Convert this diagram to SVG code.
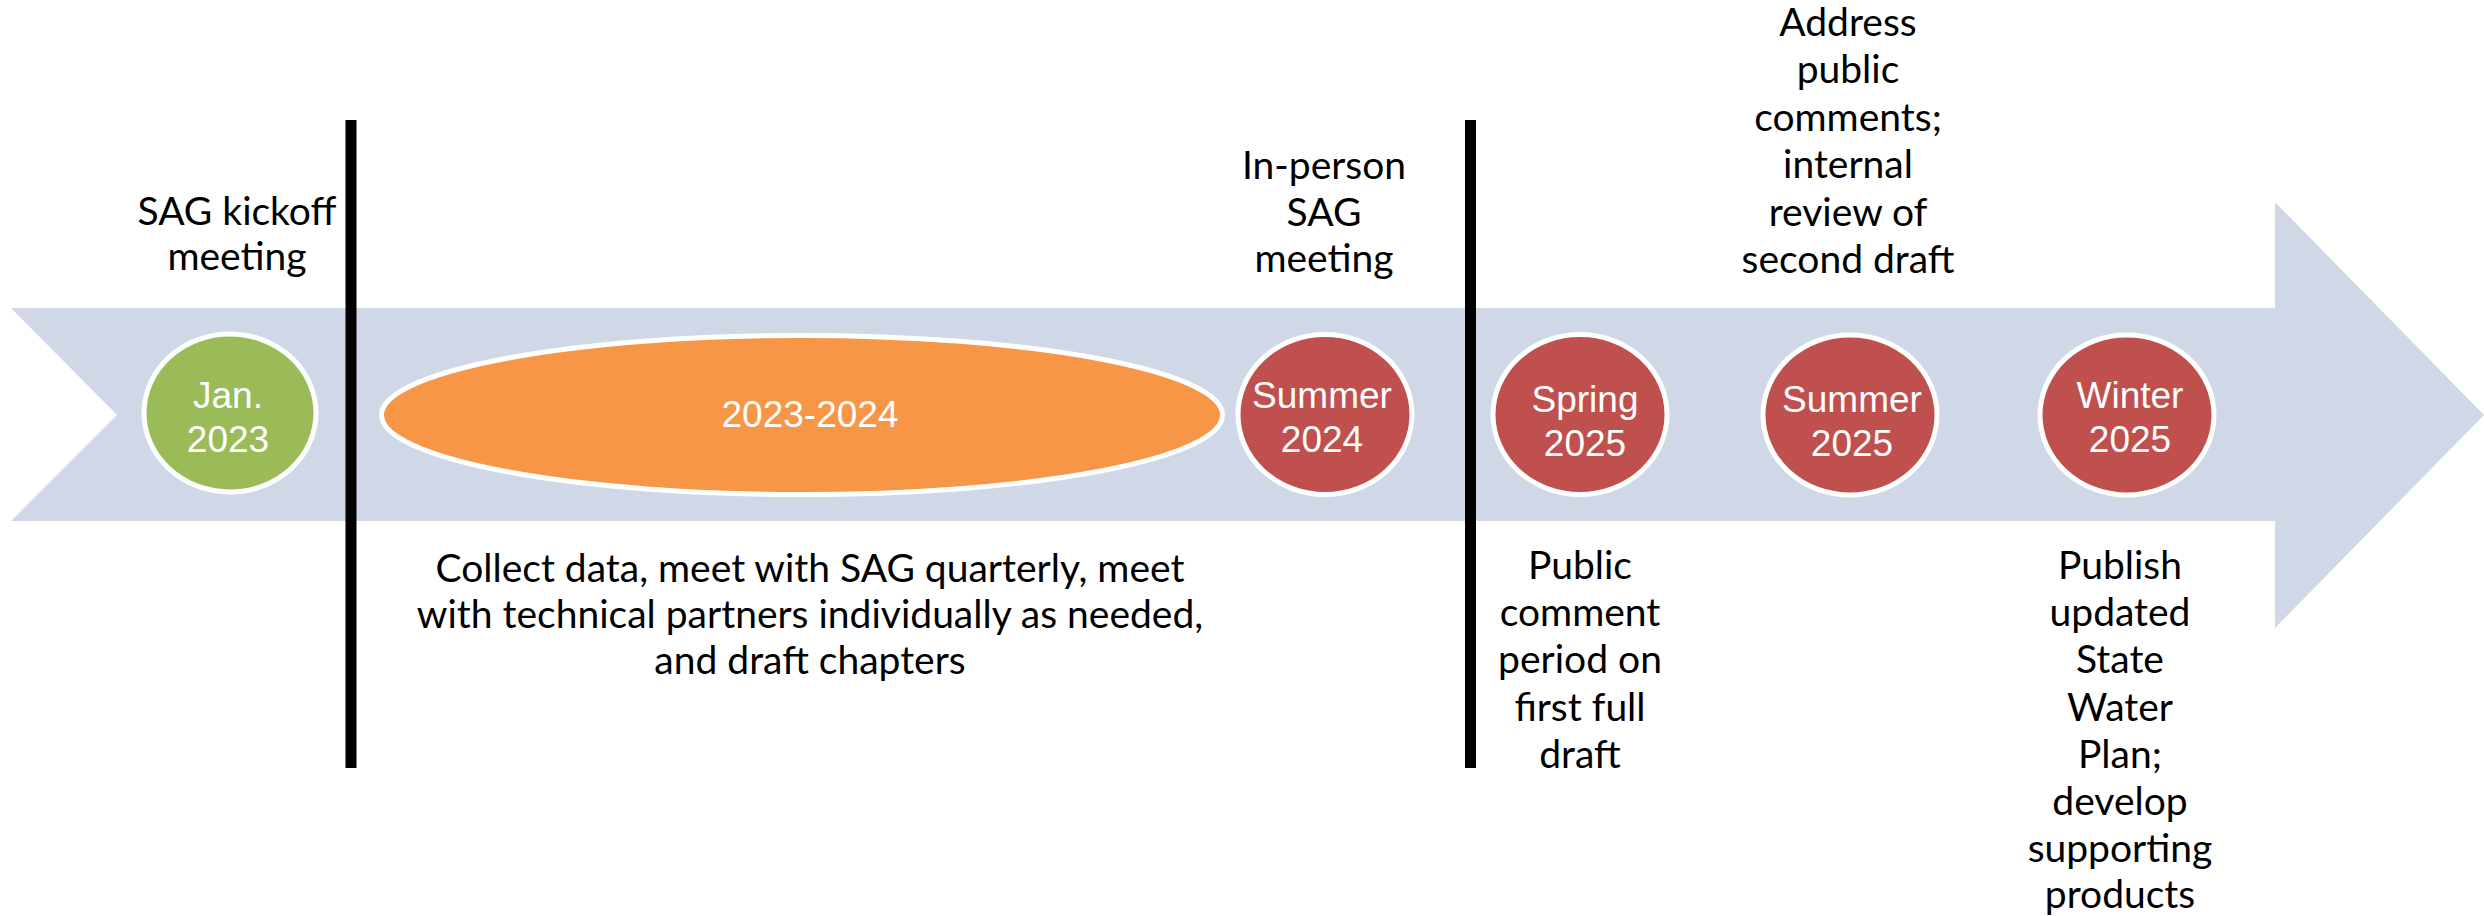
<svg xmlns="http://www.w3.org/2000/svg" width="2484" height="916" viewBox="0 0 2484 916">
<style>
.bg{fill:#ffffff}
.band{fill:#D0D8E8}
.node{stroke:#ffffff;stroke-width:5}
.g{fill:#9BBB59}.o{fill:#F79646}.r{fill:#C0504D}
.wt{font-family:"Liberation Sans",Arial,sans-serif;font-size:37px;fill:#ffffff;text-anchor:middle}
.bt{font-family:Lato,"Noto Sans",sans-serif;font-size:39px;fill:#000000;text-anchor:middle}
.sep{stroke:#000000;stroke-width:11}
</style>
<rect class="bg" x="0" y="0" width="2484" height="916"/>
<path id="timeline-arrow" class="band" d="M11,308 L2275,308 L2275,202 L2484,415 L2275,628 L2275,521 L11,521 L117,415 Z"/>
<g id="connectors">
<line class="sep" x1="351" y1="120" x2="351" y2="768"/>
<line class="sep" x1="1470.5" y1="120" x2="1470.5" y2="768"/>
</g>
<g id="n-jan2023">
<ellipse class="node g" cx="230" cy="413" rx="86" ry="79"/>
<text class="wt" x="228" y="408">Jan.</text>
<text class="wt" x="228" y="452">2023</text>
</g>
<g id="n-2023-2024">
<ellipse class="node o" cx="802" cy="415" rx="420.5" ry="79.5"/>
<text class="wt" x="810" y="427">2023-2024</text>
</g>
<g id="n-summer2024">
<ellipse class="node r" cx="1325" cy="414.5" rx="87" ry="80"/>
<text class="wt" x="1322" y="408">Summer</text>
<text class="wt" x="1322" y="452">2024</text>
</g>
<g id="n-spring2025">
<ellipse class="node r" cx="1580" cy="414.5" rx="87" ry="80"/>
<text class="wt" x="1585" y="412">Spring</text>
<text class="wt" x="1585" y="456">2025</text>
</g>
<g id="n-summer2025">
<ellipse class="node r" cx="1850" cy="415" rx="87" ry="80"/>
<text class="wt" x="1852" y="412">Summer</text>
<text class="wt" x="1852" y="456">2025</text>
</g>
<g id="n-winter2025">
<ellipse class="node r" cx="2127" cy="415" rx="87" ry="80"/>
<text class="wt" x="2130" y="408">Winter</text>
<text class="wt" x="2130" y="452">2025</text>
</g>
<g id="label-kickoff">
<text class="bt" x="237" y="225">SAG kickoff</text>
<text class="bt" x="237" y="270">meeting</text>
</g>
<g id="label-collect">
<text class="bt" x="810" y="582">Collect data, meet with SAG quarterly, meet</text>
<text class="bt" x="810" y="628">with technical partners individually as needed,</text>
<text class="bt" x="810" y="674">and draft chapters</text>
</g>
<g id="label-inperson">
<text class="bt" x="1324" y="179">In-person</text>
<text class="bt" x="1324" y="226">SAG</text>
<text class="bt" x="1324" y="272">meeting</text>
</g>
<g id="label-public-comment">
<text class="bt" x="1580" y="579">Public</text>
<text class="bt" x="1580" y="626">comment</text>
<text class="bt" x="1580" y="673">period on</text>
<text class="bt" x="1580" y="721">first full</text>
<text class="bt" x="1580" y="768">draft</text>
</g>
<g id="label-address">
<text class="bt" x="1848" y="36">Address</text>
<text class="bt" x="1848" y="83">public</text>
<text class="bt" x="1848" y="131">comments;</text>
<text class="bt" x="1848" y="178">internal</text>
<text class="bt" x="1848" y="226">review of</text>
<text class="bt" x="1848" y="273">second draft</text>
</g>
<g id="label-publish">
<text class="bt" x="2120" y="579">Publish</text>
<text class="bt" x="2120" y="626">updated</text>
<text class="bt" x="2120" y="673">State</text>
<text class="bt" x="2120" y="721">Water</text>
<text class="bt" x="2120" y="768">Plan;</text>
<text class="bt" x="2120" y="815">develop</text>
<text class="bt" x="2120" y="862">supporting</text>
<text class="bt" x="2120" y="908">products</text>
</g>
</svg>
